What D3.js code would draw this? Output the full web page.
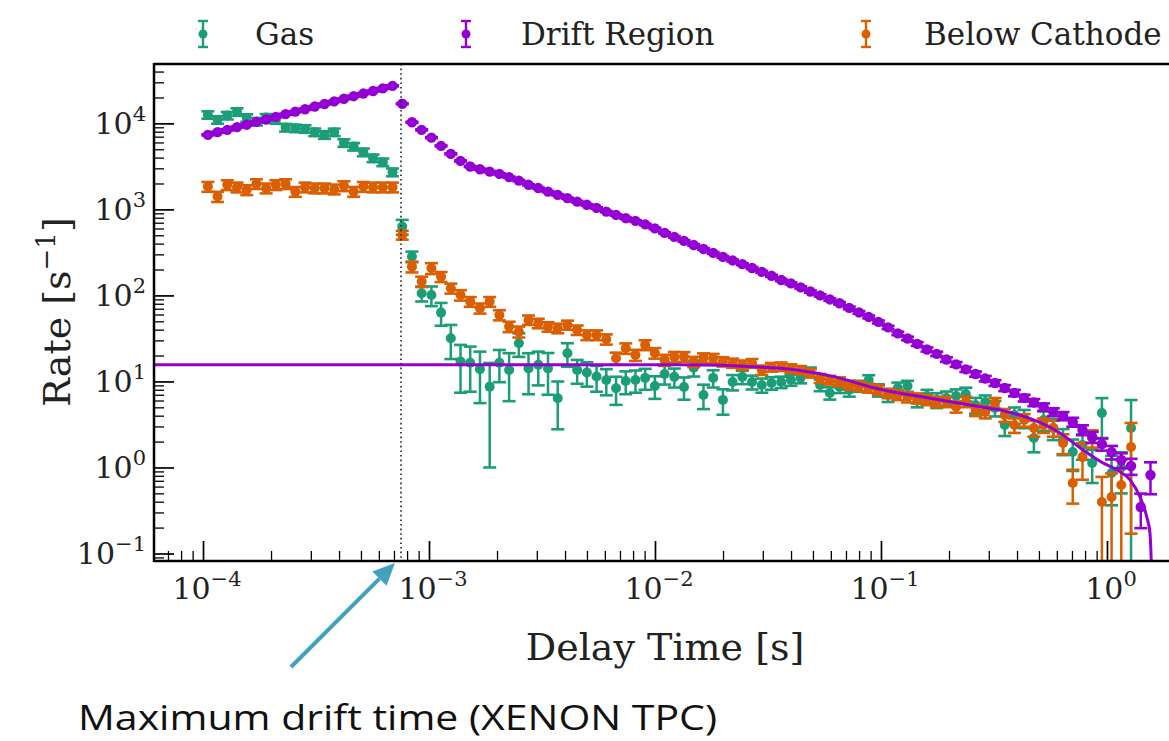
<!DOCTYPE html>
<html><head><meta charset="utf-8">
<script src="https://cdn.jsdelivr.net/npm/d3@7"></script>
<style>body{margin:0;background:#fff;} svg{display:block;}</style>
</head><body><svg id="c" width="1169" height="741"></svg>
<script>
// ---------------- data ----------------
const seriesNames = ["Gas", "Drift Region", "Below Cathode"];
const seriesColors = ["#1b9e77", "#9400d3", "#d95f02"];

// bin centres of the delay-time histogram [s]
const delayTime = [
  1.051e-4, 1.160e-4, 1.281e-4, 1.414e-4, 1.561e-4, 1.724e-4, 1.903e-4, 2.101e-4, 2.320e-4, 2.562e-4,
  2.828e-4, 3.123e-4, 3.448e-4, 3.807e-4, 4.203e-4, 4.641e-4, 5.124e-4, 5.658e-4, 6.247e-4, 6.897e-4,
  7.615e-4, 8.408e-4, 9.280e-4, 1.025e-3, 1.131e-3, 1.249e-3, 1.379e-3, 1.522e-3, 1.681e-3, 1.856e-3,
  2.049e-3, 2.262e-3, 2.498e-3, 2.757e-3, 3.045e-3, 3.362e-3, 3.712e-3, 4.098e-3, 4.525e-3, 4.996e-3,
  5.516e-3, 6.090e-3, 6.724e-3, 7.424e-3, 8.197e-3, 9.050e-3, 9.989e-3, 1.103e-2, 1.218e-2, 1.344e-2,
  1.484e-2, 1.639e-2, 1.809e-2, 1.998e-2, 2.205e-2, 2.435e-2, 2.689e-2, 2.969e-2, 3.278e-2, 3.619e-2,
  3.996e-2, 4.412e-2, 4.871e-2, 5.378e-2, 5.938e-2, 6.556e-2, 7.239e-2, 7.993e-2, 8.825e-2, 9.739e-2,
  0.1075, 0.1187, 0.1311, 0.1447, 0.1598, 0.1764, 0.1948, 0.2150, 0.2374, 0.2621,
  0.2894, 0.3195, 0.3528, 0.3895, 0.4301, 0.4749, 0.5243, 0.5789, 0.6392, 0.7057,
  0.7792, 0.8603, 0.9495, 1.048, 1.157, 1.278, 1.411, 1.558
];

const gasRate = [
  12560, 10990, 12330, 13610, 11590, 10490, 11680, 10990, 8940, 8790,
  8630, 7900, 7350, 7900, 5930, 5370, 4620, 3940, 3540, 2710,
  631, 283, 106, 101, 63.1, 31.8, 17.0, 16.5, 13.9, 8.7,
  16.5, 13.6, 27.8, 14.2, 15.6, 14.2, 6.38, 21.3, 13.6, 12.7,
  11.4, 10.4, 8.34, 10.1, 10.4, 11.0, 8.87, 12.2, 11.3, 8.63,
  14.4, 6.97, 11.0, 6.10, 9.86, 11.3, 9.86, 9.10, 9.61, 9.86,
  10.4, 11.0, 12.9, 9.10, 7.35, 8.63, 7.96, 8.87, 10.4, 7.96,
  6.97, 8.40, 8.87, 6.10, 6.78, 6.10, 6.43, 6.78, 7.16, 5.33,
  5.77, 4.92, 3.12, 4.08, 3.76, 2.20, 3.57, 2.88, 2.09, 1.51,
  1.83, 1.13, 4.30, 0.863, 1.0, 2.88, null, null
];
const gasErr = [
  1250, 1100, 1230, 1350, 1150, 1050, 1150, 1100, 900, 880,
  860, 800, 740, 790, 600, 540, 470, 400, 360, 280,
  124, 40, 21, 26, 18.7, 13.6, 9.6, 8.9, 8.3, 7.7,
  6.7, 7.7, 8.5, 7.1, 6.6, 7.2, 3.6, 6.5, 4.2, 4.0,
  3.8, 3.5, 3.0, 3.0, 3.0, 3.0, 2.6, 3.0, 2.8, 2.5,
  3.0, 2.2, 2.5, 2.0, 2.0, 2.0, 1.8, 1.7, 1.6, 1.5,
  1.5, 1.5, 1.6, 1.4, 1.2, 1.3, 1.3, 1.3, 1.4, 1.3,
  1.2, 1.3, 1.3, 1.1, 1.2, 1.2, 1.2, 1.3, 1.3, 1.1,
  1.1, 1.0, 0.8, 0.9, 0.9, 0.7, 0.9, 0.8, 0.7, 0.6,
  0.6, 0.47, 2.1, 0.5, 0.5, 3.2, null, null
];

const driftRate = [
  7350, 7900, 8400, 9050, 9650, 10400, 11100, 11900, 12800, 13700,
  14600, 15700, 16800, 18000, 19300, 20700, 22200, 23800, 25500, 27300,
  16900, 10300, 8400, 6830, 5470, 4420, 3660, 3150, 2930, 2750,
  2590, 2370, 2160, 1930, 1770, 1610, 1475, 1350, 1230, 1130,
  1040, 942, 862, 790, 735, 669, 601, 533, 479, 430,
  386, 347, 312, 280, 255, 231, 208, 188, 169, 151,
  138, 124, 111, 100, 89.8, 81.1, 71.6, 63.4, 56.2, 49.2,
  42.5, 36.2, 31.6, 27.3, 23.5, 20.9, 18.0, 15.8, 13.8, 12.2,
  10.8, 9.6, 8.4, 7.35, 6.43, 5.70, 5.05, 4.42, 3.97, 3.38,
  2.73, 2.26, 1.87, 1.51, 1.22, 1.04, 0.347, 0.818
];
const driftErr = [
  110, 120, 125, 135, 145, 155, 165, 180, 190, 205,
  220, 235, 250, 270, 290, 310, 330, 355, 380, 410,
  250, 150, 125, 100, 80, 65, 55, 47, 44, 41,
  39, 36, 33, 30, 28, 26, 24, 22, 20, 19,
  18, 16.5, 15.5, 14.5, 13.5, 12.5, 11.5, 10.5, 9.8, 9.0,
  8.3, 7.7, 7.1, 6.6, 6.1, 5.7, 5.3, 4.9, 4.5, 4.2,
  3.9, 3.6, 3.4, 3.1, 2.9, 2.7, 2.5, 2.3, 2.1, 1.95,
  1.8, 1.65, 1.5, 1.4, 1.3, 1.2, 1.1, 1.0, 0.93, 0.86,
  0.8, 0.74, 0.68, 0.63, 0.58, 0.54, 0.5, 0.46, 0.43, 0.4,
  0.36, 0.33, 0.3, 0.27, 0.24, 0.22, 0.15, 0.33
];

const cathodeRate = [
  1841, 1409, 1928, 1812, 1686, 1981, 1765, 1928, 1981, 1610,
  1812, 1765, 1765, 1718, 1876, 1610, 1841, 1812, 1812, 1812,
  505, 216, 145, 207, 165, 121, 101, 84.7, 71.0, 84.7,
  59.3, 43.4, 37.9, 51.9, 47.5, 43.4, 41.6, 45.4, 39.7, 34.7,
  34.7, 31.0, 18.6, 24.3, 20.3, 26.6, 21.4, 17.8, 19.3, 19.4,
  17.0, 18.8, 18.6, 17.0, 16.4, 15.6, 16.3, 13.6, 14.7, 14.9,
  14.2, 13.6, 12.5, 10.9, 10.4, 9.95, 9.10, 8.87, 8.40, 7.96,
  7.29, 6.97, 6.60, 6.38, 6.10, 5.82, 5.82, 5.09, 5.82, 4.66,
  4.42, 5.62, 4.08, 3.12, 3.57, 2.88, 3.12, 2.88, 1.93, 0.660,
  1.32, 2.20, 0.397, 0.454, 0.626, 1.73, null, null
];
const cathodeErr = [
  240, 190, 250, 235, 220, 255, 230, 250, 255, 210,
  235, 230, 230, 225, 245, 210, 240, 235, 235, 235,
  60, 31, 20, 30, 22, 16, 14, 11, 9.5, 11,
  8, 6, 5.5, 6.5, 6, 5.5, 5.3, 5.5, 5, 4.5,
  4.5, 4.2, 3.0, 3.4, 3.0, 3.5, 3.0, 2.6, 2.7, 2.5,
  2.3, 2.4, 2.3, 2.1, 2.0, 1.9, 1.9, 1.7, 1.7, 1.7,
  1.6, 1.5, 1.4, 1.3, 1.2, 1.2, 1.1, 1.1, 1.0, 1.0,
  0.9, 0.9, 0.9, 0.85, 0.8, 0.8, 0.8, 0.75, 0.8, 0.7,
  0.7, 0.8, 0.7, 0.6, 0.6, 0.6, 0.6, 0.6, 0.5, 0.28,
  0.6, 0.5, 0.38, 0.4, 0.6, 1.56, null, null
];

// model curve for the drift region
const fitTime = [6.0e-5, 0.0129, 0.0357, 0.0596, 0.0991, 0.165, 0.275, 0.336, 0.619, 0.783, 0.959, 1.107, 1.265, 1.40, 1.50, 1.55, 1.58];
const fitRate = [15.6, 15.6, 14.2, 11.6, 8.11, 6.38, 5.09, 4.66, 2.52, 1.60, 1.13, 0.935, 0.716, 0.454, 0.266, 0.173, 0.05];

const maxDriftTime = 7.52e-4;
const xDomain = [6.07e-5, 2.0];
const yDomain = [0.0818, 48980];
const xTickExponents = [-4, -3, -2, -1, 0];
const yTickExponents = [-1, 0, 1, 2, 3, 4];
const annotationText = "Maximum drift time (XENON TPC)";

// ---------------- layout ----------------
const plot = {left: 154, top: 64, right: 1175, bottom: 561};
const svg = d3.select("#c");
const serif = "'DejaVu Serif', serif";

const x = d3.scaleLog().domain(xDomain).range([plot.left, plot.right]);
const y = d3.scaleLog().domain(yDomain).range([plot.bottom, plot.top]);

svg.append("defs").append("clipPath").attr("id", "clip")
  .append("rect").attr("x", plot.left).attr("y", plot.top)
  .attr("width", plot.right - plot.left).attr("height", plot.bottom - plot.top);

// ticks (inward)
function minorTicks(domain) {
  const out = [];
  const lo = Math.floor(Math.log10(domain[0])), hi = Math.ceil(Math.log10(domain[1]));
  for (let e = lo; e <= hi; e++) for (let m = 2; m <= 9; m++) {
    const v = m * Math.pow(10, e);
    if (v >= domain[0] && v <= domain[1]) out.push(v);
  }
  return out;
}
const xMajor = xTickExponents.map(e => Math.pow(10, e));
const yMajor = yTickExponents.map(e => Math.pow(10, e));

const axG = svg.append("g");
axG.append("g").attr("transform", `translate(0,${plot.bottom})`)
  .call(d3.axisBottom(x).tickValues(xMajor).tickSize(-20).tickFormat(""))
  .call(g => g.select(".domain").remove())
  .call(g => g.selectAll("line").attr("stroke", "#000").attr("stroke-width", 1.7));
axG.append("g").attr("transform", `translate(0,${plot.bottom})`)
  .call(d3.axisBottom(x).tickValues(minorTicks(xDomain)).tickSize(-10).tickFormat(""))
  .call(g => g.select(".domain").remove())
  .call(g => g.selectAll("line").attr("stroke", "#000").attr("stroke-width", 1.3));
axG.append("g").attr("transform", `translate(${plot.left},0)`)
  .call(d3.axisLeft(y).tickValues(yMajor).tickSize(-20).tickFormat(""))
  .call(g => g.select(".domain").remove())
  .call(g => g.selectAll("line").attr("stroke", "#000").attr("stroke-width", 1.7));
axG.append("g").attr("transform", `translate(${plot.left},0)`)
  .call(d3.axisLeft(y).tickValues(minorTicks(yDomain)).tickSize(-10).tickFormat(""))
  .call(g => g.select(".domain").remove())
  .call(g => g.selectAll("line").attr("stroke", "#000").attr("stroke-width", 1.3));

// tick labels with superscripts
function powLabel(g, e, anchor) {
  const t = g.append("text").attr("font-family", serif).attr("fill", "#222")
    .attr("text-anchor", anchor);
  t.append("tspan").attr("font-size", 30).text("10");
  t.append("tspan").attr("font-size", 21).attr("dy", -13)
    .text(e < 0 ? "\u2212" + Math.abs(e) : String(e));
  return t;
}
xTickExponents.forEach(e => {
  powLabel(svg, e, "middle").attr("x", x(Math.pow(10, e)) + 4).attr("y", 599);
});
yTickExponents.forEach(e => {
  powLabel(svg, e, "end").attr("x", 146).attr("y", y(Math.pow(10, e)) + 11);
});

// axis titles
svg.append("text").attr("font-family", serif).attr("font-size", 38).attr("fill", "#222")
  .attr("text-anchor", "middle").attr("x", 665).attr("y", 660).text("Delay Time [s]");
const yl = svg.append("text").attr("font-family", serif).attr("font-size", 38).attr("fill", "#222")
  .attr("text-anchor", "middle").attr("transform", "translate(70,312) rotate(-90)");
yl.append("tspan").text("Rate [s");
yl.append("tspan").attr("font-size", 26).attr("dy", -15).text("\u22121");
yl.append("tspan").attr("dy", 15).text("]");

// data
const dataG = svg.append("g").attr("clip-path", "url(#clip)");
function drawSeries(rates, errs, color, r) {
  const pts = delayTime.map((t, i) => ({t, v: rates[i], e: errs[i]})).filter(d => d.v != null);
  const g = dataG.append("g");
  const cap = 6.5;
  pts.forEach(d => {
    const cx = x(d.t);
    const yTop = y(d.v + d.e);
    const lo = d.v - d.e;
    const yBot = lo > 0 ? y(lo) : plot.bottom + 20;
    g.append("line").attr("x1", cx).attr("x2", cx).attr("y1", yTop).attr("y2", yBot)
      .attr("stroke", color).attr("stroke-width", 2.5);
    g.append("line").attr("x1", cx - cap).attr("x2", cx + cap).attr("y1", yTop).attr("y2", yTop)
      .attr("stroke", color).attr("stroke-width", 2.6);
    if (lo > 0) g.append("line").attr("x1", cx - cap).attr("x2", cx + cap).attr("y1", yBot).attr("y2", yBot)
      .attr("stroke", color).attr("stroke-width", 2.6);
  });
  g.selectAll("circle").data(pts).join("circle")
    .attr("cx", d => x(d.t)).attr("cy", d => y(d.v)).attr("r", r).attr("fill", color);
}
drawSeries(gasRate, gasErr, seriesColors[0], 5);
drawSeries(cathodeRate, cathodeErr, seriesColors[2], 5);
drawSeries(driftRate, driftErr, seriesColors[1], 5.2);

// fit curve
const fitPts = fitTime.map((t, i) => [x(t), y(fitRate[i])]);
dataG.append("path").attr("d", d3.line().curve(d3.curveMonotoneX)(fitPts))
  .attr("fill", "none").attr("stroke", seriesColors[1]).attr("stroke-width", 3);

// dotted maximum drift time marker
svg.append("line").attr("x1", x(maxDriftTime)).attr("x2", x(maxDriftTime))
  .attr("y1", plot.top).attr("y2", plot.bottom)
  .attr("stroke", "#222").attr("stroke-width", 1.6).attr("stroke-dasharray", "1.6,3");

// spines
const sp = svg.append("g").attr("stroke", "#000").attr("stroke-width", 2.5).attr("fill", "none");
sp.append("line").attr("x1", plot.left).attr("x2", plot.left).attr("y1", plot.top - 1).attr("y2", plot.bottom + 1);
sp.append("line").attr("x1", plot.left).attr("x2", plot.right).attr("y1", plot.bottom).attr("y2", plot.bottom);
sp.append("line").attr("x1", plot.left).attr("x2", plot.right).attr("y1", plot.top).attr("y2", plot.top);

// legend
const legX = [203, 466, 866];
const legTextX = [255, 521, 924];
seriesNames.forEach((name, i) => {
  const g = svg.append("g");
  const c = seriesColors[i];
  g.append("line").attr("x1", legX[i]).attr("x2", legX[i]).attr("y1", 21).attr("y2", 47).attr("stroke", c).attr("stroke-width", 2.4);
  g.append("line").attr("x1", legX[i] - 5).attr("x2", legX[i] + 5).attr("y1", 21).attr("y2", 21).attr("stroke", c).attr("stroke-width", 2.4);
  g.append("line").attr("x1", legX[i] - 5).attr("x2", legX[i] + 5).attr("y1", 47).attr("y2", 47).attr("stroke", c).attr("stroke-width", 2.4);
  g.append("circle").attr("cx", legX[i]).attr("cy", 34).attr("r", 4.5).attr("fill", c);
  g.append("text").attr("x", legTextX[i]).attr("y", 45).attr("font-family", serif)
    .attr("font-size", 31).attr("fill", "#222").text(name);
});

// annotation arrow + text
const arrowColor = "#43a1bd";
const tip = [x(maxDriftTime) - 6, plot.bottom + 2];
const tail = [291, 667];
const ang = Math.atan2(tip[1] - tail[1], tip[0] - tail[0]);
const headLen = 22, headW = 10;
const base = [tip[0] - headLen * Math.cos(ang), tip[1] - headLen * Math.sin(ang)];
svg.append("line").attr("x1", tail[0]).attr("y1", tail[1]).attr("x2", base[0]).attr("y2", base[1])
  .attr("stroke", arrowColor).attr("stroke-width", 4);
const px = -Math.sin(ang), py = Math.cos(ang);
svg.append("path").attr("d", `M${tip[0]},${tip[1]}L${base[0] + px * headW},${base[1] + py * headW}L${base[0] - px * headW},${base[1] - py * headW}Z`)
  .attr("fill", arrowColor);
svg.append("text").attr("x", 78).attr("y", 730).attr("font-family", "'Open Sans', 'Noto Sans', sans-serif")
  .attr("font-size", 34).attr("fill", "#111").attr("textLength", 639).attr("lengthAdjust", "spacingAndGlyphs")
  .text(annotationText);
</script></body></html>
